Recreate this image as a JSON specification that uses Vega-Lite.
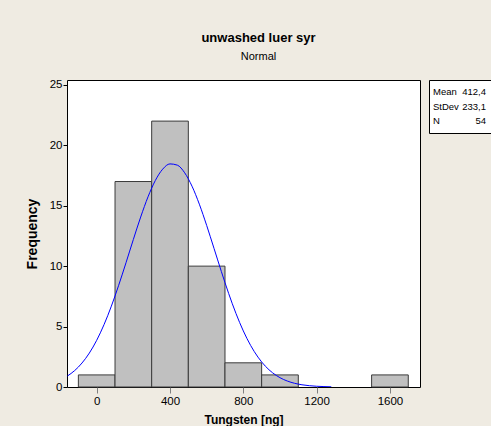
{
  "$schema": "https://vega.github.io/schema/vega-lite/v6.json",
  "background": "#EFEBE2",
  "padding": {"left": 24, "top": 31, "right": 0, "bottom": 0},
  "config": {
    "font": "Liberation Sans",
    "view": {"fill": "white", "stroke": "black", "strokeWidth": 1},
    "axis": {"labelColor": "black", "titleColor": "black", "labelFontWeight": "normal", "titleFontWeight": "bold", "grid": false, "domain": false, "labelFontSize": 11.5, "titleFontSize": 12},
    "concat": {"spacing": 7}
  },
  "hconcat": [
    {
      "width": 353,
      "height": 307,
      "title": {"text": "unwashed luer syr", "subtitle": "Normal", "anchor": "middle", "dx": 15, "fontSize": 13, "fontWeight": "bold", "subtitleFontSize": 11, "subtitleColor": "black", "color": "black", "subtitlePadding": 6, "offset": 17},
      "layer": [
        {
          "data": {"values": [
            {"bin_start": -100, "bin_end": 100, "count": 1},
            {"bin_start": 100, "bin_end": 300, "count": 17},
            {"bin_start": 300, "bin_end": 500, "count": 22},
            {"bin_start": 500, "bin_end": 700, "count": 10},
            {"bin_start": 700, "bin_end": 900, "count": 2},
            {"bin_start": 900, "bin_end": 1100, "count": 1},
            {"bin_start": 1500, "bin_end": 1700, "count": 1}
          ]},
          "mark": {"type": "rect", "fill": "#C0C0C0", "stroke": "#3A3A3A", "strokeWidth": 1},
          "encoding": {
            "x": {"field": "bin_start", "type": "quantitative", "scale": {"domain": [-162, 1764], "nice": false, "zero": false},
                  "axis": {"values": [0, 400, 800, 1200, 1600], "format": "d", "tickSize": 6, "tickColor": "#808080", "labelPadding": 2, "title": "Tungsten [ng]", "titlePadding": 8}},
            "x2": {"field": "bin_end"},
            "y": {"field": "count", "type": "quantitative", "scale": {"domain": [0, 25.4], "nice": false},
                  "axis": {"values": [0, 5, 10, 15, 20, 25], "tickSize": 4, "tickColor": "black", "labelPadding": 1, "title": "Frequency", "titlePadding": 10, "titleFontSize": 14}},
            "y2": {"datum": 0}
          }
        },
        {
          "data": {"values": [
            {"x": -160, "y": 0.907}, {"x": -120, "y": 1.361}, {"x": -80, "y": 1.986}, {"x": -40, "y": 2.811},
            {"x": 0, "y": 3.864}, {"x": 40, "y": 5.159}, {"x": 80, "y": 6.687}, {"x": 120, "y": 8.416},
            {"x": 160, "y": 10.285}, {"x": 200, "y": 12.205}, {"x": 240, "y": 14.061}, {"x": 280, "y": 15.731},
            {"x": 320, "y": 17.087}, {"x": 360, "y": 18.023}, {"x": 400, "y": 18.458}, {"x": 440, "y": 18.355},
            {"x": 480, "y": 17.723}, {"x": 520, "y": 16.616}, {"x": 560, "y": 15.126}, {"x": 600, "y": 13.37},
            {"x": 640, "y": 11.475}, {"x": 680, "y": 9.563}, {"x": 720, "y": 7.739}, {"x": 760, "y": 6.081},
            {"x": 800, "y": 4.639}, {"x": 840, "y": 3.436}, {"x": 880, "y": 2.472}, {"x": 920, "y": 1.726},
            {"x": 960, "y": 1.171}, {"x": 1000, "y": 0.771}, {"x": 1040, "y": 0.493}, {"x": 1080, "y": 0.306},
            {"x": 1120, "y": 0.184}, {"x": 1160, "y": 0.108}, {"x": 1200, "y": 0.061}, {"x": 1240, "y": 0.034},
            {"x": 1280, "y": 0.018}
          ]},
          "mark": {"type": "line", "color": "#0000FF", "strokeWidth": 1, "interpolate": "monotone", "clip": true},
          "encoding": {
            "x": {"field": "x", "type": "quantitative"},
            "y": {"field": "y", "type": "quantitative"}
          }
        }
      ]
    },
    {
      "width": 62,
      "height": 53,
      "data": {"values": [
        {"stat": "Mean", "value": "412,4", "order": 1},
        {"stat": "StDev", "value": "233,1", "order": 2},
        {"stat": "N", "value": "54", "order": 3}
      ]},
      "encoding": {
        "y": {"field": "stat", "type": "ordinal", "sort": {"field": "order"}, "axis": null, "scale": {"padding": 0.8}}
      },
      "layer": [
        {"mark": {"type": "text", "align": "left", "dx": -27, "fontSize": 9.5, "color": "black"}, "encoding": {"text": {"field": "stat"}}},
        {"mark": {"type": "text", "align": "right", "dx": 26, "fontSize": 9.5, "color": "black"}, "encoding": {"text": {"field": "value"}}}
      ]
    }
  ]
}
